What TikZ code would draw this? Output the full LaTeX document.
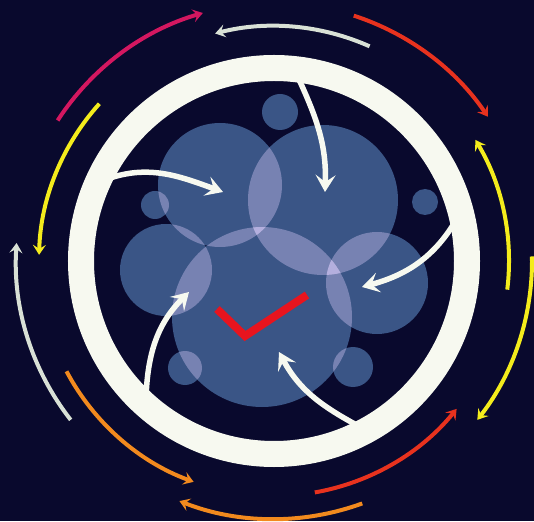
\documentclass[tikz,border=0pt]{standalone}
\usepackage{xcolor}
\usepackage{tikz}
\usetikzlibrary{arrows.meta}

\definecolor{bgnavy}{HTML}{09092D}
\definecolor{ringwhite}{HTML}{F7F9F0}
\definecolor{bubble}{HTML}{3A5586}
\definecolor{lensc}{HTML}{DCCDFA}
\definecolor{pinkarc}{HTML}{D41760}
\definecolor{redarc}{HTML}{E8321E}
\definecolor{yellowarc}{HTML}{F4EC1C}
\definecolor{orangearc}{HTML}{F28A1E}
\definecolor{grayarc}{HTML}{D9E1D6}
\definecolor{tickred}{HTML}{E8141E}

\begin{document}
\begin{tikzpicture}[x=1pt, y=1pt,
    outarc/.style={line width=4pt, -{Stealth[length=10pt, width=13pt, inset=4pt]}},
    inarrow/.style={ringwhite, line width=5.5pt, -{Stealth[length=17pt, width=20pt, inset=7pt]}},
    lens/.style={fill=lensc, fill opacity=0.38}]

    % Background
    \useasboundingbox (-274,-260) rectangle (260,261);
    \fill[bgnavy] (-274,-260) rectangle (260,261);

    % Bubbles inside the ring
    \foreach \cx/\cy/\r in {-54/76/62, 49/61/75, -108/-9/46, -12/-56/90, 103/-22/51,
                            6/149/18, -119/56/14, 151/59/13, -89/-107/17, 79/-106/20}
        \fill[bubble] (\cx,\cy) circle (\r);

    % Overlaps of the bubbles
    \foreach \ax/\ay/\ar/\bx/\by/\br in {-54/76/62/49/61/75, -54/76/62/-12/-56/90,
            -54/76/62/-108/-9/46, -108/-9/46/-12/-56/90, 49/61/75/-12/-56/90,
            49/61/75/103/-22/51, -12/-56/90/103/-22/51, -54/76/62/-119/56/14,
            -12/-56/90/-89/-107/17, -12/-56/90/79/-106/20} {
        \begin{scope}
            \clip (\ax,\ay) circle (\ar);
            \fill[lens] (\bx,\by) circle (\br);
        \end{scope}
    }

    % Ring
    \draw[ringwhite, line width=26pt] (0,0) circle (193);

    % Arrows from the ring to the middle
    \draw[inarrow] (-172,80) to[out=22, in=160] (-51,69);
    \draw[inarrow] (22,188) to[out=-65, in=88] (51,69);
    \draw[inarrow] (186,48) to[out=-118, in=15] (88,-26);
    \draw[inarrow] (90,-168) to[out=152, in=-62] (5,-91);
    \draw[inarrow] (-128,-137) to[out=88, in=-135] (-85,-31);

    % Check mark
    \draw[tickred, line width=8pt, line join=miter] (-57,-48) -- (-29,-75) -- (33,-34);

    % Outer arcs, clockwise
    \draw[outarc, pinkarc] (147:258) arc (147:106:258);
    \draw[outarc, redarc] (72:258) arc (72:34:258);
    \draw[outarc, yellowarc] (1:258) arc (1:-38:258);
    \draw[outarc, orangearc] (-70:258) arc (-70:-111.5:258);
    \draw[outarc, grayarc] (218:258) arc (218:176:258);

    % Inner arcs, counterclockwise
    \draw[outarc, grayarc] (66:235) arc (66:104.5:235);
    \draw[outarc, yellowarc] (-7:235) arc (-7:31:235);
    \draw[outarc, redarc] (-80:235) arc (-80:-39:235);
    \draw[outarc, orangearc] (208:235) arc (208:250:235);
    \draw[outarc, yellowarc] (138:235) arc (138:178.5:235);

\end{tikzpicture}
\end{document}
